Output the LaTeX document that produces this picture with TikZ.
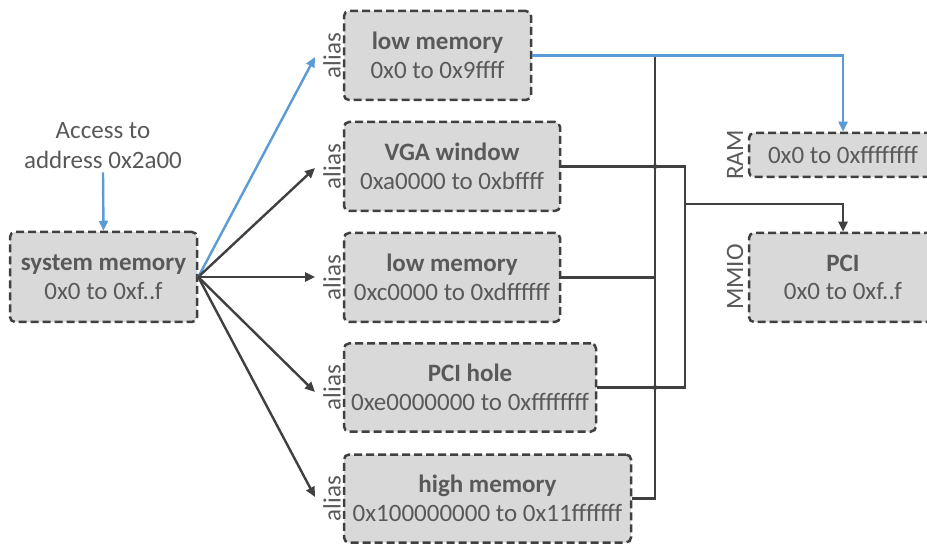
\documentclass[tikz,border=0pt]{standalone}
\usepackage{fontspec}
\setmainfont{Carlito}
\usetikzlibrary{arrows.meta}
\definecolor{txt}{HTML}{595959}
\definecolor{dk}{HTML}{404040}
\definecolor{boxgray}{HTML}{D9D9D9}
\definecolor{bl}{HTML}{5B9BD5}
\begin{document}
\begin{tikzpicture}[x=1pt,y=-1pt,
  membox/.style={draw=dk, line width=2.5pt, dash pattern=on 8pt off 4pt, fill=boxgray,
    rounded corners=5pt, inner sep=0pt, align=center, text=txt,
    font=\fontsize{25}{28.5}\selectfont},
  lbl/.style={rotate=90, text=txt, inner sep=0pt, font=\fontsize{25}{28}\selectfont},
  conn/.style={draw=dk, line width=2.4pt},
  bconn/.style={draw=bl, line width=2.4pt},
  tip/.style={-{Triangle[length=10pt,width=9pt]}}
]
\useasboundingbox (0,0) rectangle (927,545);
\clip (0,0) rectangle (927,545);

% left
\node[membox, minimum width=187pt, minimum height=90pt] (sys) at (103.5,277) {\textbf{system memory}\\0x0 to 0xf..f};
\node[align=center, text=txt, inner sep=0pt, font=\fontsize{25}{30}\selectfont] (acc) at (103,146) {Access to\\address 0x2a00};

% alias boxes
\node[membox, minimum width=187pt, minimum height=89pt] (lm1) at (437.5,55.5) {\textbf{low memory}\\0x0 to 0x9ffff};
\node[membox, minimum width=216pt, minimum height=89pt] (vga) at (452,166.5) {\textbf{VGA window}\\0xa0000 to 0xbffff};
\node[membox, minimum width=216pt, minimum height=89pt] (lm2) at (452,277.5) {\textbf{low memory}\\0xc0000 to 0xdffffff};
\node[membox, minimum width=252pt, minimum height=88pt] (ph) at (470,387.5) {\textbf{PCI hole}\\0xe0000000 to 0xffffffff};
\node[membox, minimum width=287pt, minimum height=88pt] (hm) at (487.5,498.5) {\textbf{high memory}\\0x100000000 to 0x11fffffff};

\node[lbl] (a1) at (332,55.5) {alias};
\node[lbl] (a2) at (332,166.5) {alias};
\node[lbl] (a3) at (332,277.5) {alias};
\node[lbl] (a4) at (332,387.5) {alias};
\node[lbl] (a5) at (332,498.5) {alias};

% right boxes
\node[membox, minimum width=188pt, minimum height=44pt] (ram) at (843,155) {0x0 to 0xffffffff};
\node[membox, minimum width=188pt, minimum height=89pt] (pci) at (843,277.5) {\textbf{PCI}\\0x0 to 0xf..f};
\node[lbl] (rl) at (735,155) {RAM};
\node[lbl] (ml) at (735,277) {MMIO};

% arrow targets
\coordinate (t1) at (315,57);
\coordinate (t2) at (315,168);
\coordinate (t3) at (315,277);
\coordinate (t4) at (315,392);
\coordinate (t5) at (315,497);

\draw[bconn, tip] (acc.south) ++(0,3) -- (sys.north);
\draw[bconn, tip] (sys.east) -- (t1);
\draw[conn, tip] (sys.east) -- (t2);
\draw[conn, tip] (sys.east) -- (t3);
\draw[conn, tip] (sys.east) -- (t4);
\draw[conn, tip] (sys.east) -- (t5);

% bus lines
\coordinate (bus1) at (655,55.5);
\coordinate (j1) at (685,166.5);
\coordinate (j2) at (685,204);
\draw[conn] (hm.east) -| (bus1);
\draw[conn] (lm2.east) -- (lm2.east -| bus1);
\draw[conn] (vga.east) -- (j1) |- (ph.east);
\fill[dk] (vga.east -| bus1) circle (2.4pt);
\fill[dk] (ph.east -| bus1) circle (2.4pt);
\draw[conn, tip] (j2) -| (pci.north);
\draw[bconn, tip] (lm1.east) -| (ram.north);
\end{tikzpicture}
\end{document}
